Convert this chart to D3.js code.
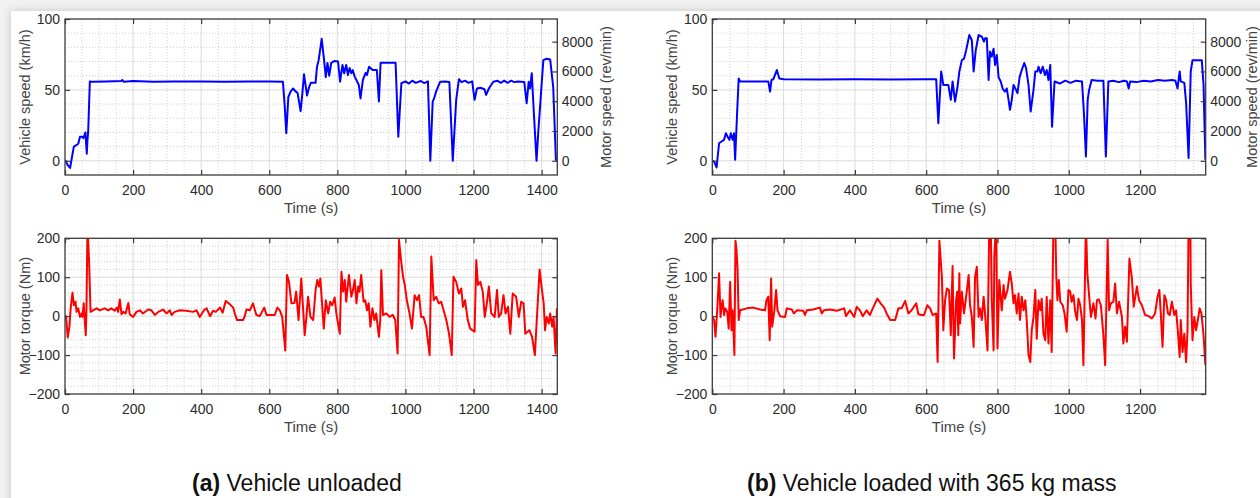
<!DOCTYPE html>
<html>
<head>
<meta charset="utf-8">
<script src="https://cdn.jsdelivr.net/npm/d3@7"></script>
<style>
  html, body { margin: 0; padding: 0; background: #e4e4e4; }
  svg { display: block; }
</style>
</head>
<body>
<svg id="chart" width="1260" height="498"></svg>
<script>
// --- data: [time (s), value] ---
const speedA = [[0,0],[2,0],[8,-3],[15,-5],[20,2],[26,10],[33,11],[39,12],[44,17],[50,17],[54,16],[57,18],[60,20],[62,12],[64,5],[66,15],[68,20],[73,56],[80,55.8],[120,55.9],[165,56.2],[168,57],[172,55.8],[200,56.2],[260,55.7],[320,55.9],[400,56],[470,55.7],[540,56],[600,55.9],[640,55.8],[645,40],[650,19.5],[656,45],[663,49],[670,51],[677,49],[683,48],[692,35],[697,47],[702,61],[711,46],[717,52],[722,55],[736,55],[740,66],[745,71],[754,86],[761,71],[766,59],[771,69],[776,60],[782,69],[792,70.4],[802,70],[808,55.8],[815,67.6],[820,61.7],[826,67.6],[831,60.5],[836,65.5],[841,61.7],[845,64],[851,59.4],[863,53.5],[868,44],[875,57],[883,62],[887,60.5],[893,66.4],[904,64],[916,64],[922,41.8],[927,69.2],[971,69.2],[979,17],[988,54.7],[1000,56],[1010,54.5],[1020,56.5],[1030,55],[1045,56.3],[1055,54.8],[1066,56],[1073,0],[1080,41.8],[1084,44],[1090,48.8],[1102,55.8],[1115,56],[1129,55.5],[1139,0],[1149,43],[1157,57.5],[1165,55.5],[1175,56.5],[1185,55],[1196,56],[1203,43],[1210,51],[1220,51.5],[1232,50.5],[1237,46.5],[1245,51],[1258,55.8],[1270,56.5],[1280,55],[1290,56.5],[1300,55],[1310,56.5],[1320,55.5],[1330,56],[1349,55.5],[1356,40.6],[1362,55.8],[1366,51],[1371,61.8],[1378,30],[1385,0],[1390,20],[1405,71],[1415,72],[1425,71.5],[1434,52],[1442,0]];

const torqueA = [[0,0],[3,0],[8,-55],[13,-27],[17,24],[22,60],[26,28],[31,37],[34,11],[39,20],[44,-2],[49,7],[51,-2],[55,33],[57,3],[61,-49],[63,15],[66,230],[71,136],[75,11],[93,20],[102,15],[117,20],[127,15],[136,20],[146,14],[152,22],[156,11],[161,43],[166,5],[171,11],[178,7],[186,34],[190,5],[200,-2],[210,11],[220,15],[229,7],[244,17],[254,15],[264,3],[274,11],[288,17],[298,7],[308,15],[313,3],[322,11],[337,15],[356,14],[376,11],[386,15],[396,-2],[408,15],[416,20],[426,0],[435,14],[443,11],[455,22],[463,9],[472,39],[484,31],[494,22],[498,9],[505,-10],[523,-10],[528,0],[533,17],[543,15],[552,33],[562,3],[572,0],[585,22],[592,3],[616,3],[624,22],[631,15],[638,-2],[647,-88],[652,106],[658,88],[665,33],[674,34],[679,63],[686,-10],[694,97],[704,-49],[709,-2],[714,50],[721,-2],[729,-10],[736,67],[741,93],[746,76],[750,97],[760,-32],[766,41],[773,7],[779,37],[785,28],[792,48],[797,7],[807,-45],[812,114],[817,63],[822,93],[826,37],[834,106],[841,50],[846,67],[851,93],[856,33],[861,76],[865,63],[870,106],[877,37],[882,41],[887,15],[892,33],[897,-27],[903,20],[909,-10],[914,7],[922,-53],[926,-10],[929,118],[934,3],[944,7],[953,-2],[963,3],[970,-10],[977,-96],[981,196],[987,144],[993,101],[998,80],[1004,41],[1012,7],[1019,-32],[1027,54],[1034,41],[1040,54],[1046,-2],[1053,-2],[1061,-27],[1071,-100],[1076,153],[1083,41],[1090,50],[1098,33],[1105,37],[1120,-10],[1128,-45],[1136,-100],[1141,101],[1149,88],[1157,58],[1164,71],[1169,24],[1175,41],[1183,-10],[1190,-32],[1203,-40],[1208,144],[1213,80],[1220,88],[1227,63],[1233,-2],[1239,33],[1245,76],[1252,7],[1262,-2],[1269,67],[1274,-2],[1281,7],[1288,54],[1294,7],[1301,24],[1308,-45],[1315,58],[1325,50],[1333,-2],[1340,37],[1347,33],[1352,-45],[1364,-36],[1372,-53],[1380,-100],[1394,120],[1401,67],[1406,33],[1410,-36],[1415,-2],[1421,-19],[1425,7],[1431,-27],[1435,-2],[1441,-96],[1445,20]];

const speedB = [[0,0],[5,-0.5],[12,-4.7],[19,12.4],[26,13.6],[33,14.8],[38,19.5],[43,17],[48,14.8],[52,19.5],[57,14.8],[61,19.5],[64,0.7],[70,36],[74,58],[78,56],[157,56],[162,48.8],[166,57],[171,57.5],[181,64],[188,58],[200,57.5],[300,57.4],[400,57.6],[500,57.3],[600,57.5],[628,57.5],[634,26.5],[642,63],[648,53.5],[662,53.5],[669,43],[674,56],[681,41.8],[688,52.5],[693,63],[700,71],[706,72],[712,78],[721,88.7],[728,85],[733,63],[739,78],[747,88.7],[756,87.6],[762,84],[765,86.4],[770,86.4],[775,57],[779,77],[784,73.5],[789,79],[793,67.6],[798,74.6],[803,59],[809,55.9],[815,50.5],[821,48.8],[826,51],[831,43],[835,36],[840,43],[845,53.5],[852,50],[856,47.7],[862,59],[868,64],[875,69],[880,65.5],[887,53.5],[893,34.7],[901,50],[906,63],[912,63],[915,66.4],[921,61.7],[927,66.4],[933,60.5],[938,64],[943,57],[948,67.6],[953,24],[960,55.9],[975,54.5],[990,56.5],[1005,55],[1020,56.5],[1037,56],[1043,31],[1048,3],[1053,43],[1057,50],[1064,57],[1080,56.5],[1097,56.5],[1104,3],[1111,56],[1125,56.5],[1140,55.5],[1155,56.5],[1163,56],[1168,51],[1172,56],[1190,55.5],[1210,56.5],[1230,56],[1250,57],[1270,56.5],[1290,57],[1299,56.5],[1305,51],[1311,63],[1314,56],[1324,55],[1329,41],[1336,2],[1342,63],[1347,71],[1373,71],[1378,53.5],[1383,0.7]];

const torqueB = [[0,0],[5,-10],[9,-53],[14,20],[19,110],[23,-2],[26,24],[29,41],[33,3],[36,20],[42,11],[46,-32],[50,88],[54,-36],[57,15],[62,-100],[65,194],[68,170],[71,118],[74,-10],[78,15],[97,20],[115,22],[134,17],[148,15],[152,41],[157,50],[161,-62],[165,97],[168,-27],[174,15],[179,67],[183,15],[190,0],[204,-2],[209,20],[223,17],[229,7],[237,15],[255,14],[260,3],[265,15],[283,17],[302,22],[307,7],[313,15],[330,17],[349,14],[370,20],[375,0],[386,15],[398,-2],[405,24],[414,15],[422,0],[433,15],[442,3],[452,24],[463,45],[472,33],[482,22],[489,7],[499,-10],[513,-10],[522,20],[531,20],[541,39],[550,7],[559,15],[572,33],[578,5],[587,3],[594,3],[603,28],[611,20],[618,3],[628,7],[632,-118],[637,194],[644,101],[648,-36],[653,41],[658,71],[664,67],[669,-49],[674,129],[678,-109],[684,41],[687,63],[690,-49],[693,110],[695,-19],[700,63],[706,7],[712,50],[719,106],[723,28],[728,-2],[733,-79],[737,101],[742,127],[747,-2],[751,20],[756,-10],[761,50],[765,7],[772,-88],[777,240],[781,240],[784,41],[789,-88],[791,153],[796,240],[800,-83],[805,93],[812,15],[817,80],[821,45],[828,67],[835,114],[840,84],[845,33],[849,54],[854,7],[859,58],[863,-10],[868,50],[873,15],[878,41],[882,-10],[887,-100],[892,-118],[896,-36],[901,-2],[906,67],[910,-58],[915,41],[920,15],[924,45],[929,-45],[934,-62],[938,50],[943,-70],[948,41],[952,-92],[957,240],[962,240],[965,101],[968,41],[972,93],[976,37],[983,28],[988,7],[994,-40],[999,67],[1004,63],[1008,37],[1013,54],[1018,11],[1023,-10],[1027,45],[1032,28],[1037,-10],[1041,-126],[1048,240],[1052,110],[1058,41],[1062,-2],[1069,33],[1075,-6],[1079,41],[1084,43],[1090,28],[1097,-49],[1102,-126],[1109,196],[1113,15],[1118,33],[1125,37],[1130,84],[1135,7],[1141,37],[1149,-2],[1153,-70],[1158,-27],[1163,-66],[1170,148],[1177,97],[1182,24],[1191,76],[1197,41],[1205,28],[1214,3],[1224,0],[1233,-6],[1242,7],[1249,50],[1254,67],[1258,7],[1263,-79],[1268,54],[1273,41],[1278,7],[1283,3],[1289,37],[1296,3],[1301,15],[1306,-40],[1311,-105],[1314,-10],[1319,-92],[1324,-45],[1329,-118],[1333,-36],[1336,240],[1341,240],[1342,84],[1347,-62],[1352,-2],[1357,-36],[1362,-10],[1367,20],[1372,7],[1378,-49],[1383,-126]];

const timeTicksA = [0, 200, 400, 600, 800, 1000, 1200, 1400];
const timeTicksB = [0, 200, 400, 600, 800, 1000, 1200];
const speedTicks = [0, 50, 100];
const rpmTicks = [0, 2000, 4000, 6000, 8000];
const torqueTicks = [-200, -100, 0, 100, 200];
const captions = [
  { tag: '(a)', text: ' Vehicle unloaded' },
  { tag: '(b)', text: ' Vehicle loaded with 365 kg mass' }
];

const svg = d3.select('#chart');
const defs = svg.append('defs');
defs.append('filter').attr('id', 'shadow')
  .attr('x', '-5%').attr('y', '-5%').attr('width', '110%').attr('height', '110%')
  .append('feDropShadow')
  .attr('dx', 0).attr('dy', 0).attr('stdDeviation', 4)
  .attr('flood-color', '#000').attr('flood-opacity', 0.18);

// white card with soft edge
svg.append('rect').attr('width', 1260).attr('height', 498).attr('fill', '#f1f1f1');
svg.append('rect')
  .attr('x', 11).attr('y', 11).attr('width', 1270).attr('height', 510)
  .attr('fill', '#fff').attr('filter', 'url(#shadow)');

const FONT = '"Liberation Sans", Arial, Helvetica, sans-serif';
const tickColor = '#2b2b2b';
const labelColor = '#444';
const fmt = d3.format('d');

let clipId = 0;

function drawPanel(o) {
  const x = d3.scaleLinear().domain(o.xDomain).range([o.x0, o.x1]);
  const y = d3.scaleLinear().domain(o.yDomain).range([o.y1, o.y0]);
  const g = svg.append('g');

  // minor grid (dotted)
  g.selectAll('.vminor').data(d3.range(50, o.xDomain[1], 50).filter(v => v % 200 !== 0))
    .enter().append('line')
    .attr('x1', d => x(d)).attr('x2', d => x(d))
    .attr('y1', o.y0).attr('y2', o.y1)
    .attr('stroke', '#c4c4c4').attr('stroke-width', 0.8).attr('stroke-dasharray', '1,2');
  g.selectAll('.hminor').data(d3.range(o.yDomain[0], o.yDomain[1], o.minorStep).filter(v => !o.yTicks.includes(v) && v > o.yDomain[0]))
    .enter().append('line')
    .attr('x1', o.x0).attr('x2', o.x1)
    .attr('y1', d => y(d)).attr('y2', d => y(d))
    .attr('stroke', '#c4c4c4').attr('stroke-width', 0.8).attr('stroke-dasharray', '1,2');

  // major grid
  g.selectAll('.vmajor').data(o.xTicks.filter(v => v > o.xDomain[0]))
    .enter().append('line')
    .attr('x1', d => x(d)).attr('x2', d => x(d))
    .attr('y1', o.y0).attr('y2', o.y1)
    .attr('stroke', '#dadada').attr('stroke-width', 1);
  g.selectAll('.hmajor').data(o.yTicks.filter(v => v > o.yDomain[0] && v < o.yDomain[1]))
    .enter().append('line')
    .attr('x1', o.x0).attr('x2', o.x1)
    .attr('y1', d => y(d)).attr('y2', d => y(d))
    .attr('stroke', '#dadada').attr('stroke-width', 1);

  // series
  const id = 'clip' + (clipId++);
  defs.append('clipPath').attr('id', id).append('rect')
    .attr('x', o.x0).attr('y', o.y0).attr('width', o.x1 - o.x0).attr('height', o.y1 - o.y0);
  const line = d3.line().x(d => x(d[0])).y(d => y(d[1]));
  g.append('path')
    .datum(o.data)
    .attr('d', line)
    .attr('clip-path', `url(#${id})`)
    .attr('fill', 'none')
    .attr('stroke', o.color)
    .attr('stroke-width', 2)
    .attr('stroke-linejoin', 'round');

  // box
  g.append('rect')
    .attr('x', o.x0).attr('y', o.y0).attr('width', o.x1 - o.x0).attr('height', o.y1 - o.y0)
    .attr('fill', 'none').attr('stroke', '#3a3a3a').attr('stroke-width', 1.3);

  // axes with inward ticks
  const axB = g.append('g').attr('transform', `translate(0,${o.y1})`)
    .call(d3.axisBottom(x).tickValues(o.xTicks).tickSizeInner(-5).tickSizeOuter(0).tickPadding(10).tickFormat(fmt));
  const axT = g.append('g').attr('transform', `translate(0,${o.y0})`)
    .call(d3.axisTop(x).tickValues(o.xTicks).tickSizeInner(-5).tickSizeOuter(0).tickFormat(''));
  const axL = g.append('g').attr('transform', `translate(${o.x0},0)`)
    .call(d3.axisLeft(y).tickValues(o.yTicks).tickSizeInner(-5).tickSizeOuter(0).tickPadding(5));
  let axR;
  if (o.rightDomain) {
    const yr = d3.scaleLinear().domain(o.rightDomain).range([o.y1, o.y0]);
    axR = g.append('g').attr('transform', `translate(${o.x1},0)`)
      .call(d3.axisRight(yr).tickValues(rpmTicks).tickSizeInner(-5).tickSizeOuter(0).tickPadding(4.5).tickFormat(fmt));
  } else {
    axR = g.append('g').attr('transform', `translate(${o.x1},0)`)
      .call(d3.axisRight(y).tickValues(o.yTicks).tickSizeInner(-5).tickSizeOuter(0).tickFormat(''));
  }
  [axB, axT, axL, axR].forEach(a => {
    a.select('.domain').remove();
    a.selectAll('line').attr('stroke', '#3a3a3a').attr('stroke-width', 1.2);
    a.selectAll('text').attr('fill', tickColor).style('font-family', FONT).style('font-size', '14px');
  });

  // labels
  g.append('text')
    .attr('x', (o.x0 + o.x1) / 2).attr('y', o.y1 + 38)
    .attr('text-anchor', 'middle')
    .style('font-family', FONT).style('font-size', '15px').attr('fill', labelColor)
    .text('Time (s)');
  g.append('text')
    .attr('transform', `translate(${o.x0 - 40},${(o.y0 + o.y1) / 2}) rotate(-90)`)
    .attr('text-anchor', 'middle').attr('dy', '0.35em')
    .style('font-family', FONT).style('font-size', '14.5px').attr('fill', labelColor)
    .text(o.yLabel);
  if (o.rightLabel) {
    g.append('text')
      .attr('transform', `translate(${o.x1 + o.rightOffset},${(o.y0 + o.y1) / 2}) rotate(-90)`)
      .attr('text-anchor', 'middle').attr('dy', '0.35em')
      .style('font-family', FONT).style('font-size', '14.5px').attr('fill', labelColor)
      .text(o.rightLabel);
  }
}

const rpmPerKmh = 95.2;
const speedDomain = [-10, 100];
const rpmDomain = speedDomain.map(v => v * rpmPerKmh);

const cols = [
  { x0: 65, x1: 557.3, xDomain: [0, 1446], xTicks: timeTicksA, speed: speedA, torque: torqueA, rightOffset: 49 },
  { x0: 712.3, x1: 1205.7, xDomain: [0, 1384], xTicks: timeTicksB, speed: speedB, torque: torqueB, rightOffset: 46 }
];

cols.forEach(c => {
  drawPanel({
    x0: c.x0, x1: c.x1, y0: 19, y1: 175,
    xDomain: c.xDomain, xTicks: c.xTicks,
    yDomain: speedDomain, yTicks: speedTicks, minorStep: 10,
    rightDomain: rpmDomain, rightOffset: c.rightOffset,
    data: c.speed, color: '#0000ff',
    yLabel: 'Vehicle speed (km/h)', rightLabel: 'Motor speed (rev/min)'
  });
  drawPanel({
    x0: c.x0, x1: c.x1, y0: 238.3, y1: 394,
    xDomain: c.xDomain, xTicks: c.xTicks,
    yDomain: [-200, 200], yTicks: torqueTicks, minorStep: 20,
    data: c.torque, color: '#ff0000',
    yLabel: 'Motor torque (Nm)'
  });
});

// captions
const capX = [192, 747];
captions.forEach((c, i) => {
  const t = svg.append('text')
    .attr('x', capX[i]).attr('y', 491)
    .style('font-family', FONT).style('font-size', '23px').attr('fill', '#111');
  t.append('tspan').attr('font-weight', 'bold').text(c.tag);
  t.append('tspan').text(c.text);
});
</script>
</body>
</html>
